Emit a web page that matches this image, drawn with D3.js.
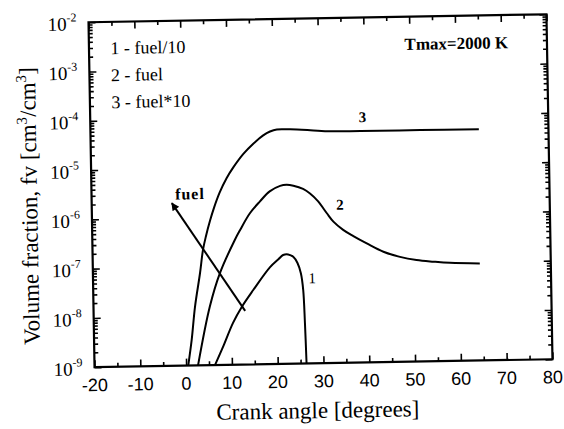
<!DOCTYPE html>
<html>
<head>
<meta charset="utf-8">
<script src="https://cdn.jsdelivr.net/npm/d3@7"></script>
<style>
body { margin: 0; background: #fff; }
svg { display: block; }
.serif { font-family: "Liberation Serif", "DejaVu Serif", serif; fill: #000; }
.sans { font-family: "Liberation Sans", Arial, sans-serif; fill: #000; }
.curve { fill: none; stroke: #000; stroke-width: 2px; }
</style>
</head>
<body>
<div id="chart"></div>
<script>
// crank angle [deg] and volume fraction fv
var c1Angle = [6.3, 8.1, 10.4, 12.4, 14.9, 18.7, 20.6, 21.6, 22.7, 23.8, 24.7, 25.4, 25.85, 26.1, 26.3];
var c1Fv    = [1e-9, 2.3e-9, 7.1e-9, 1.5e-8, 3.2e-8, 9.3e-8, 1.35e-7, 1.62e-7, 1.66e-7, 1.48e-7, 1.1e-7, 6.8e-8, 3.1e-8, 6.6e-9, 1e-9];

var c2Angle = [2.6, 5.4, 7.75, 11.1, 12.3, 14.5, 16.7, 18.9, 21.2, 22.6, 24.1, 26.2, 27.7, 29.4, 31.3, 32.7, 34.8, 37.0, 39.9, 43.5, 47.1, 50.7, 54.4, 58.0, 64.5];
var c2Fv    = [1e-9, 1.55e-8, 7.4e-8, 3.4e-7, 5.4e-7, 1.17e-6, 2.0e-6, 3.2e-6, 4.1e-6, 4.3e-6, 4.1e-6, 3.5e-6, 2.8e-6, 1.95e-6, 1.1e-6, 7.4e-7, 5.0e-7, 3.7e-7, 2.6e-7, 1.74e-7, 1.35e-7, 1.15e-7, 1.05e-7, 9.8e-8, 9.3e-8];

var c3Angle = [0.46, 1.31, 2.16, 3.38, 4.12, 4.83, 5.76, 6.68, 7.94, 9.57, 11.05, 13.3, 15.5, 17.7, 19.2, 20.7, 23.6, 28.0, 32.4, 39.0, 52.0, 64.8];
var c3Fv    = [1e-9, 3.3e-9, 1.55e-8, 7.4e-8, 2.2e-7, 4.2e-7, 8.5e-7, 1.55e-6, 3.1e-6, 6.2e-6, 1.01e-5, 1.88e-5, 3.0e-5, 4.4e-5, 5.25e-5, 5.75e-5, 5.7e-5, 5.4e-5, 5.05e-5, 5.0e-5, 4.95e-5, 4.9e-5];

// "fuel" arrow, tail -> head
var arrowAngle = [13.1, -2.5];
var arrowFv    = [1.23e-8, 2.0e-6];

var xTicks = [-20, -10, 0, 10, 20, 30, 40, 50, 60, 70, 80];
var xMinor = [-15, -5, 5, 15, 25, 35, 45, 55, 65, 75];
var yExps  = [-2, -3, -4, -5, -6, -7, -8, -9];

var legendLines = ["1 - fuel/10", "2 - fuel", "3 - fuel*10"];
var curveLabels = ["1", "2", "3"];

var W = 564, H = 429;
var L = 91.5, R = 549.5, T = 18.25, B = 363.25;

var x = d3.scaleLinear().domain([-20, 80]).range([L, R]);
var y = d3.scaleLog().domain([1e-9, 1e-2]).range([B, T]);

var svg = d3.select('#chart').append('svg')
    .attr('width', W).attr('height', H);

svg.append('defs').append('marker')
    .attr('id', 'head')
    .attr('viewBox', '0 0 10 10')
    .attr('refX', 9).attr('refY', 5)
    .attr('markerWidth', 10).attr('markerHeight', 8)
    .attr('markerUnits', 'userSpaceOnUse')
    .attr('orient', 'auto')
    .append('path').attr('d', 'M0,0L10,5L0,10Z').attr('fill', '#000');

svg.append('clipPath').attr('id', 'plot')
    .append('rect').attr('x', L).attr('y', T).attr('width', R - L).attr('height', B - T);

// the scan is tilted a little
var g = svg.append('g').attr('transform', 'rotate(-1,' + ((L + R) / 2) + ',' + ((T + B) / 2) + ')');

// ticks, all pointing inward
var minorY = [];
yExps.forEach(function(e) {
    if (e == -2) return;
    for (var k = 2; k <= 9; k++) minorY.push(k * Math.pow(10, e));
});

g.append('g').attr('transform', 'translate(0,' + B + ')')
    .call(d3.axisBottom(x).tickValues(xTicks).tickSize(-7).tickFormat(''));
g.append('g').attr('transform', 'translate(0,' + B + ')')
    .call(d3.axisBottom(x).tickValues(xMinor).tickSize(-4).tickFormat(''));
g.append('g').attr('transform', 'translate(0,' + T + ')')
    .call(d3.axisTop(x).tickValues(xTicks).tickSize(-7).tickFormat(''));
g.append('g').attr('transform', 'translate(0,' + T + ')')
    .call(d3.axisTop(x).tickValues(xMinor).tickSize(-4).tickFormat(''));

var decades = yExps.map(function(e) { return Math.pow(10, e); });
g.append('g').attr('transform', 'translate(' + L + ',0)')
    .call(d3.axisLeft(y).tickValues(decades).tickSize(-7).tickFormat(''));
g.append('g').attr('transform', 'translate(' + L + ',0)')
    .call(d3.axisLeft(y).tickValues(minorY).tickSize(-4).tickFormat(''));
g.append('g').attr('transform', 'translate(' + R + ',0)')
    .call(d3.axisRight(y).tickValues(decades).tickSize(-7).tickFormat(''));
g.append('g').attr('transform', 'translate(' + R + ',0)')
    .call(d3.axisRight(y).tickValues(minorY).tickSize(-4).tickFormat(''));

g.selectAll('.domain').remove();
g.selectAll('.tick line').attr('stroke', '#000').attr('stroke-width', 1.6);

g.append('rect')
    .attr('x', L).attr('y', T).attr('width', R - L).attr('height', B - T)
    .attr('fill', 'none').attr('stroke', '#000').attr('stroke-width', 2.2);

// tick labels
g.selectAll('.xlab').data(xTicks).enter().append('text')
    .attr('class', 'sans')
    .attr('x', function(d) { return x(d); })
    .attr('y', B + 24)
    .attr('text-anchor', 'middle')
    .style('font-size', '18px')
    .text(function(d) { return d; });

var yl = g.selectAll('.ylab').data(yExps).enter().append('text')
    .attr('class', 'serif')
    .attr('x', L - 12)
    .attr('y', function(d) { return y(Math.pow(10, d)) + 8; })
    .attr('text-anchor', 'end')
    .style('font-size', '19px');
yl.append('tspan').text('10');
yl.append('tspan').attr('dy', -9).style('font-size', '12px').text(function(d) { return d; });

// curves
var line = d3.line()
    .x(function(d) { return x(d[0]); })
    .y(function(d) { return y(d[1]); })
    .curve(d3.curveCatmullRom.alpha(0.5));

var curves = [d3.zip(c1Angle, c1Fv), d3.zip(c2Angle, c2Fv), d3.zip(c3Angle, c3Fv)];
g.append('g').attr('clip-path', 'url(#plot)')
    .selectAll('path').data(curves).enter().append('path')
    .attr('class', 'curve')
    .attr('d', line);

g.append('line')
    .attr('x1', x(arrowAngle[0])).attr('y1', y(arrowFv[0]))
    .attr('x2', x(arrowAngle[1])).attr('y2', y(arrowFv[1]))
    .attr('stroke', '#000').attr('stroke-width', 2)
    .attr('marker-end', 'url(#head)');

// annotations
g.selectAll('.leg').data(legendLines).enter().append('text')
    .attr('class', 'serif')
    .attr('x', 113)
    .attr('y', function(d, i) { return 50.5 + i * 27; })
    .style('font-size', '18px')
    .text(function(d) { return d; });

g.append('text').attr('class', 'serif')
    .attr('x', 407).attr('y', 51.5)
    .style('font-size', '17px').style('font-weight', 'bold')
    .text('Tmax=2000 K');

var labPos = [[307, 283], [336, 210], [360, 123]];
g.selectAll('.clab').data(curveLabels).enter().append('text')
    .attr('class', 'serif')
    .attr('x', function(d, i) { return labPos[i][0]; })
    .attr('y', function(d, i) { return labPos[i][1]; })
    .style('font-size', '15px')
    .style('font-weight', function(d, i) { return i ? 'bold' : 'normal'; })
    .text(function(d) { return d; });

g.append('text').attr('class', 'serif')
    .attr('x', 175).attr('y', 197)
    .style('font-size', '16px').style('font-weight', 'bold')
    .style('letter-spacing', '1px')
    .text('fuel');

// axis titles
g.append('text').attr('class', 'serif')
    .attr('x', 314).attr('y', 418)
    .attr('text-anchor', 'middle')
    .style('font-size', '23px')
    .text('Crank angle [degrees]');

var yt = g.append('text').attr('class', 'serif')
    .attr('transform', 'translate(37,201) rotate(-90)')
    .attr('text-anchor', 'middle')
    .style('font-size', '23px');
yt.append('tspan').text('Volume fraction, fv [cm');
yt.append('tspan').attr('dy', -9).style('font-size', '15px').text('3');
yt.append('tspan').attr('dy', 9).text('/cm');
yt.append('tspan').attr('dy', -9).style('font-size', '15px').text('3');
yt.append('tspan').attr('dy', 9).text(']');
</script>
</body>
</html>
